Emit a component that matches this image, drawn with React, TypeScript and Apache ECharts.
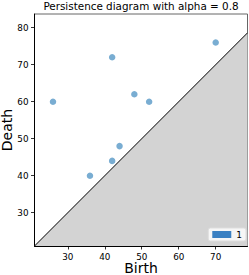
import React, { useEffect, useRef } from "react";
import * as echarts from "echarts";

const births = [26, 42, 70, 48, 52, 44, 42, 36];
const deaths = [60, 72, 76, 62, 60, 48, 44, 40];
const xTicks = [30, 40, 50, 60, 70];
const yTicks = [30, 40, 50, 60, 70, 80];
const xRange = [21, 78.6];
const yRange = [21, 83.7];
const diagonal = [
  [21, 21],
  [78.6, 78.6],
];
const legendLabels = ["1"];
const titleText = "Persistence diagram with alpha = 0.8";

const FONT = "DejaVu Sans";

export default function App() {
  const ref = useRef<HTMLDivElement>(null);
  useEffect(() => {
    if (!ref.current) return;
    const chart = echarts.init(ref.current, undefined, { renderer: "svg" });
    const axisCommon = {
      type: "value",
      splitLine: { show: false },
      axisLine: { show: true, lineStyle: { color: "#000", width: 1 } },
      axisTick: { show: true, length: 3.5, lineStyle: { color: "#000", width: 0.8 } },
      axisLabel: { color: "#000", fontSize: 8.8, fontFamily: FONT, margin: 6 },
    };
    chart.setOption({
      animation: false,
      grid: {
        left: 34.5,
        right: 1.5,
        top: 14,
        bottom: 29,
        containLabel: false,
        show: true,
        borderColor: "#666",
        borderWidth: 1,
        backgroundColor: "#fff",
      },
      xAxis: {
        ...axisCommon,
        min: xRange[0],
        max: xRange[1],
        axisTick: { ...axisCommon.axisTick, customValues: xTicks },
        axisLabel: { ...axisCommon.axisLabel, customValues: xTicks },
      },
      yAxis: {
        ...axisCommon,
        min: yRange[0],
        max: yRange[1],
        axisTick: { ...axisCommon.axisTick, customValues: yTicks },
        axisLabel: { ...axisCommon.axisLabel, customValues: yTicks },
      },
      legend: {
        data: legendLabels.map((n) => ({
          name: n,
          icon: "rect",
          itemStyle: { color: "#3a80c2", opacity: 1 },
        })),
        right: 3,
        bottom: 34,
        itemWidth: 19,
        itemHeight: 7,
        itemGap: 5,
        padding: [2, 4],
        backgroundColor: "rgba(255,255,255,0.8)",
        borderColor: "#ddd",
        borderWidth: 1,
        borderRadius: 2,
        textStyle: { fontSize: 9, fontFamily: FONT, color: "#000" },
      },
      graphic: [
        {
          type: "text",
          x: 141,
          y: 6,
          style: {
            text: titleText,
            align: "center",
            verticalAlign: "middle",
            fontSize: 10.4,
            fontFamily: FONT,
            fill: "#000",
          },
        },
        {
          type: "text",
          x: 141,
          y: 268,
          style: {
            text: "Birth",
            align: "center",
            verticalAlign: "middle",
            fontSize: 14,
            fontFamily: FONT,
            fill: "#000",
          },
        },
        {
          type: "text",
          x: 6.5,
          y: 130,
          rotation: Math.PI / 2,
          style: {
            text: "Death",
            align: "center",
            verticalAlign: "middle",
            fontSize: 14,
            fontFamily: FONT,
            fill: "#000",
          },
        },
      ],
      series: [
        {
          type: "line",
          data: diagonal,
          symbol: "none",
          silent: true,
          lineStyle: { color: "#000", width: 1 },
          areaStyle: { color: "#d3d3d3", opacity: 1, origin: "start" },
          z: 1,
        },
        {
          name: legendLabels[0],
          type: "scatter",
          data: births.map((b, i) => [b, deaths[i]]),
          symbolSize: 6.5,
          itemStyle: { color: "#1f77b4", opacity: 0.6 },
          z: 3,
        },
      ],
    });
    return () => chart.dispose();
  }, []);
  return (
    <div
      ref={ref}
      style={{ position: "absolute", left: 0, top: 0, width: 249, height: 275 }}
    />
  );
}
